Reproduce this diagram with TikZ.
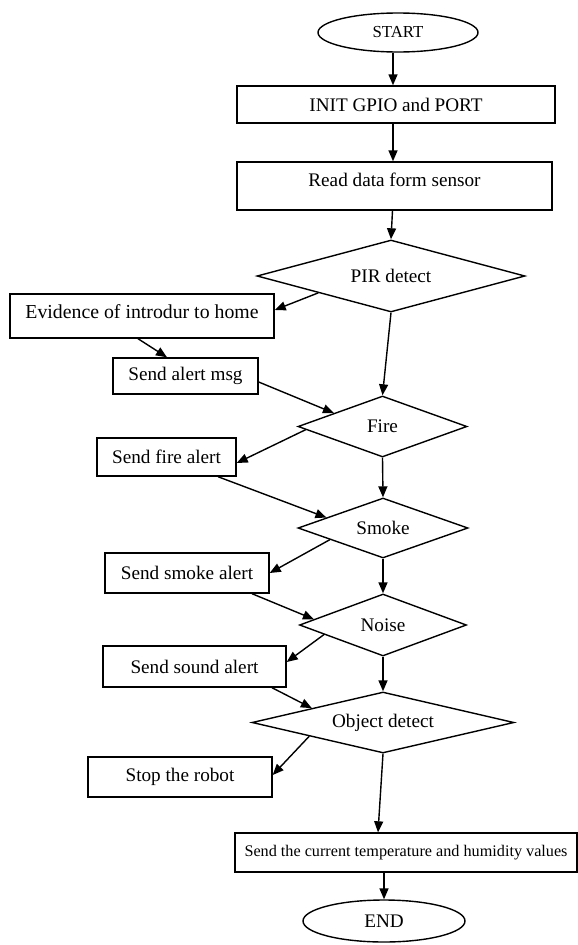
\documentclass[tikz,border=0pt]{standalone}
\usepackage{fontspec}
\setmainfont{Liberation Serif}
\usetikzlibrary{shapes.geometric,arrows.meta,calc}
\begin{document}
\begin{tikzpicture}[x=1pt,y=-1pt,
  every node/.style={font=\fontsize{19.2}{21}\selectfont, line width=1.4pt, inner sep=0pt},
  box/.style={draw, rectangle},
  term/.style={draw, ellipse},
  dec/.style={draw, diamond},
  arr/.style={-{Triangle[length=11pt,width=9pt]}, line width=1.4pt}]
\useasboundingbox (0,0) rectangle (578,945);

\node[term, minimum width=160pt, minimum height=39pt, font=\fontsize{16.8}{18}\selectfont] (start) at (398,32.5) {START};
\node[box, minimum width=318pt, minimum height=37pt] (init) at (396,104.5) {INIT GPIO and PORT};
\node[box, minimum width=315pt, minimum height=48pt, text depth=12pt] (read) at (394.5,186) {Read data form sensor};
\node[dec, minimum width=268pt, minimum height=72pt, aspect=3.7] (pir) at (391,276) {PIR detect};
\node[box, minimum width=264pt, minimum height=44pt, text depth=8pt, font=\fontsize{19.8}{21}\selectfont] (evid) at (142,316) {Evidence of introdur to home};
\node[box, minimum width=145pt, minimum height=36pt] (alert) at (185.5,376) {Send alert msg};
\node[dec, minimum width=169pt, minimum height=61pt, aspect=2.8] (fire) at (382.5,426.5) {Fire};
\node[box, minimum width=139pt, minimum height=38pt] (fireal) at (166.5,457) {Send fire alert};
\node[dec, minimum width=170pt, minimum height=60pt, aspect=2.8] (smoke) at (383,528) {Smoke};
\node[box, minimum width=164pt, minimum height=40pt] (smokeal) at (187,573) {Send smoke alert};
\node[dec, minimum width=167pt, minimum height=62pt, aspect=2.7] (noise) at (383,625) {Noise};
\node[box, minimum width=183pt, minimum height=41pt] (soundal) at (194.5,666.5) {Send sound alert};
\node[dec, minimum width=262pt, minimum height=61pt, aspect=4.3] (obj) at (383,722.5) {Object detect};
\node[box, minimum width=184pt, minimum height=40pt] (stop) at (180,777) {Stop the robot};
\node[box, minimum width=342pt, minimum height=39pt, font=\fontsize{16.2}{18}\selectfont] (temp) at (406,852.5) {Send the current temperature and humidity values};
\node[term, minimum width=162pt, minimum height=42pt] (fin) at (384,921) {END};

\draw[arr] ([xshift=-5pt]start.south) -- ([xshift=-3pt]init.north);
\draw[arr] ([xshift=-3pt]init.south) -- ([xshift=-1.5pt]read.north);
\draw[arr] ([xshift=-2pt]read.south) -- (pir.north);
\draw[arr] ($(pir.west)!0.46!(pir.south)$) -- ([yshift=6pt]evid.east);
\draw[arr] ([xshift=-4pt]evid.south) -- ([xshift=-18.5pt]alert.north);
\draw[arr] (pir.south) -- (fire.north);
\draw[arr] ([yshift=-6pt]alert.east) -- ($(fire.west)!0.43!(fire.north)$);
\draw[arr] ($(fire.west)!0.1!(fire.south)$) -- ([yshift=-6pt]fireal.east);
\draw[arr] (fire.south) -- (smoke.north);
\draw[arr] ([xshift=51.5pt]fireal.south) -- ($(smoke.west)!0.34!(smoke.north)$);
\draw[arr] ($(smoke.west)!0.38!(smoke.south)$) -- (smokeal.east);
\draw[arr] (smoke.south) -- (noise.north);
\draw[arr] ([xshift=65pt]smokeal.south) -- ($(noise.west)!0.18!(noise.north)$);
\draw[arr] ($(noise.west)!0.3!(noise.south)$) -- ([yshift=4.5pt]soundal.east);
\draw[arr] (noise.south) -- (obj.north);
\draw[arr] ([xshift=77.5pt]soundal.south) -- ($(obj.west)!0.46!(obj.north)$);
\draw[arr] ($(obj.west)!0.44!(obj.south)$) -- ([yshift=2pt]stop.east);
\draw[arr] (obj.south) -- ([xshift=-28pt]temp.north);
\draw[arr] (temp.south -| fin.north) -- (fin.north);
\end{tikzpicture}
\end{document}
